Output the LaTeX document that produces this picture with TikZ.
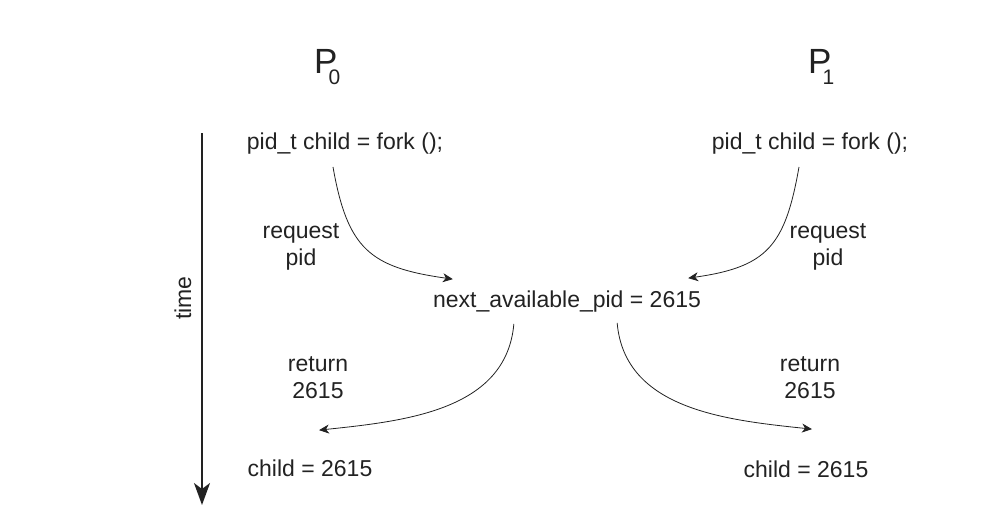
\documentclass[tikz,border=0pt]{standalone}
\usepackage{fontspec}
\setmainfont{Liberation Sans}
\usetikzlibrary{arrows.meta}
\definecolor{ink}{HTML}{222222}
\begin{document}
\begin{tikzpicture}[x = 1pt, y = 1pt,
    txt/.style = {inner sep = 0, anchor = base, align = center, text = ink, font = \fontsize{23}{27}\selectfont},
    call/.style = {draw = ink, line width = 0.8pt, -{Stealth[length = 10pt, width = 9pt, inset = 3pt]}}]
    \useasboundingbox (0,0) rectangle (1006,-528);
    % processes
    \node[txt, anchor = base west] (P0) at (314,-73) {{\fontsize{35}{35}\selectfont P}\kern-9pt\raisebox{-11pt}{\fontsize{21}{21}\selectfont 0}};
    \node[txt, anchor = base west] (P1) at (808,-73) {{\fontsize{35}{35}\selectfont P}\kern-9pt\raisebox{-11pt}{\fontsize{21}{21}\selectfont 1}};
    \node[txt] (F0) at (345,-149) {pid\_t child = fork ();};
    \node[txt] (F1) at (810,-149) {pid\_t child = fork ();};
    \node[txt] (RQ0) at (301,-265) {request\\pid};
    \node[txt] (RQ1) at (828,-265) {request\\pid};
    \node[txt] (NP) at (567,-307) {next\_available\_pid = 2615};
    \node[txt] (RT0) at (318,-398) {return\\2615};
    \node[txt] (RT1) at (810,-398) {return\\2615};
    \node[txt] (C0) at (310,-476) {child = 2615};
    \node[txt] (C1) at (806,-477) {child = 2615};
    % time axis
    \coordinate (T0) at (202,-133);
    \coordinate (T1) at (202,-505);
    \draw[ink, line width = 2pt, -{Stealth[length = 22pt, width = 16pt, inset = 6pt]}] (T0) -- (T1);
    \node[txt, anchor = center, rotate = 90] (TL) at (183,-298) {time};
    % requests and replies
    \draw[call, looseness = 1.3] ([shift = {(-12,-13)}]F0.south) to[out = -80, in = 172] ([shift = {(20,11)}]NP.north west);
    \draw[call, looseness = 1.3] ([shift = {(-11,-13)}]F1.south) to[out = -100, in = 8] ([shift = {(-13,12)}]NP.north east);
    \draw[call] ([shift = {(81,-12)}]NP.south west) to[out = -95, in = 6] ([shift = {(9,29)}]C0.north);
    \draw[call] ([shift = {(-84,-11)}]NP.south east) to[out = -85, in = 174] ([shift = {(6,31)}]C1.north);
\end{tikzpicture}
\end{document}
